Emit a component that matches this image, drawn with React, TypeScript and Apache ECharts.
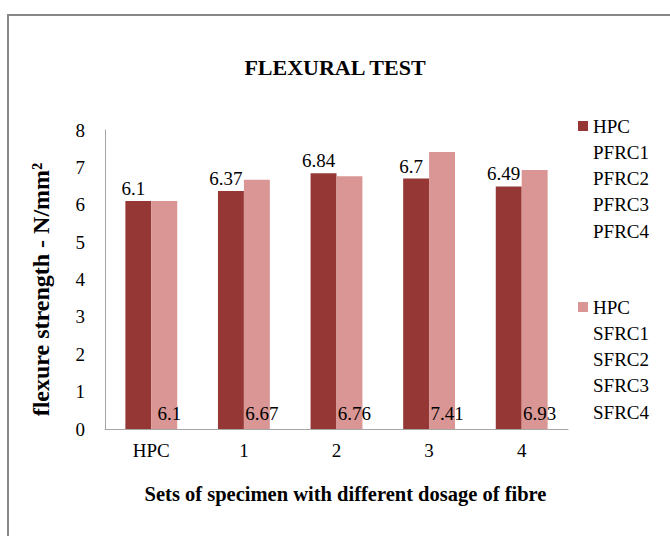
import React, { useEffect, useRef } from "react";
import * as echarts from "echarts";

const categories = ["HPC", "1", "2", "3", "4"];
const pfrcName = "HPC\nPFRC1\nPFRC2\nPFRC3\nPFRC4";
const sfrcName = "HPC\nSFRC1\nSFRC2\nSFRC3\nSFRC4";
const pfrcValues = [6.1, 6.37, 6.84, 6.7, 6.49];
const sfrcValues = [6.1, 6.67, 6.76, 7.41, 6.93];
const yTicks = { min: 0, max: 8, interval: 1 };

const FONT = "'Liberation Serif', 'DejaVu Serif', serif";
const LINE_H = 26.25;
const ITEM_H = LINE_H * 5;
// square marker next to the first line, with invisible anchor points spanning the whole item height
const legendIcon = `path://M0,0L0.01,0M0,8L10,8L10,18L0,18ZM10,${ITEM_H}L9.99,${ITEM_H}`;

export default function App() {
  const ref = useRef<HTMLDivElement>(null);
  useEffect(() => {
    if (!ref.current) return;
    const chart = echarts.init(ref.current, undefined, { renderer: "svg" });
    const legendText = {
      fontFamily: FONT,
      fontSize: 19,
      color: "#000",
      lineHeight: LINE_H,
    };
    const legendBase = {
      left: 578,
      padding: 0,
      icon: legendIcon,
      itemWidth: 10,
      itemHeight: ITEM_H,
      textStyle: legendText,
      selectedMode: false,
    };
    chart.setOption({
      animation: false,
      backgroundColor: "#fff",
      textStyle: { fontFamily: FONT },
      graphic: [
        {
          type: "rect",
          shape: { x: 8, y: 15, width: 700, height: 600 },
          style: { fill: "none", stroke: "#878787", lineWidth: 2 },
          silent: true,
        },
      ],
      title: {
        text: "FLEXURAL TEST",
        left: "center",
        top: 51,
        textStyle: { fontFamily: FONT, fontSize: 22, fontWeight: "bold", color: "#000" },
      },
      legend: [
        { ...legendBase, data: [pfrcName], top: 113 },
        { ...legendBase, data: [sfrcName], top: 294 },
      ],
      grid: { left: 105, right: 102, top: 130, bottom: 107, containLabel: false },
      xAxis: {
        type: "category",
        data: categories,
        name: "Sets of specimen with different dosage of fibre",
        nameLocation: "middle",
        nameGap: 54,
        nameTextStyle: {
          fontFamily: FONT,
          fontSize: 20.5,
          fontWeight: "bold",
          color: "#000",
          padding: [0, 0, 0, 18],
        },
        axisLine: { lineStyle: { color: "#a6a6a6", width: 1 } },
        axisTick: { show: false },
        axisLabel: { fontFamily: FONT, fontSize: 19, color: "#000", margin: 12 },
      },
      yAxis: {
        type: "value",
        min: yTicks.min,
        max: yTicks.max,
        interval: yTicks.interval,
        name: "flexure strength - N/mm²",
        nameLocation: "middle",
        nameGap: 52,
        nameTextStyle: {
          fontFamily: FONT,
          fontSize: 24,
          fontWeight: "bold",
          color: "#000",
          padding: [0, 20, 0, 0],
        },
        axisLine: { show: true, lineStyle: { color: "#a6a6a6", width: 1 } },
        axisTick: { show: false },
        splitLine: { show: false },
        axisLabel: { fontFamily: FONT, fontSize: 19, color: "#000", margin: 20 },
      },
      series: [
        {
          name: pfrcName,
          type: "bar",
          data: pfrcValues,
          barGap: "0%",
          barCategoryGap: "44%",
          itemStyle: { color: "#953735" },
          label: {
            show: true,
            position: "top",
            distance: 3,
            offset: [-5, 0],
            fontFamily: FONT,
            fontSize: 19,
            color: "#000",
          },
        },
        {
          name: sfrcName,
          type: "bar",
          data: sfrcValues,
          barGap: "0%",
          barCategoryGap: "44%",
          itemStyle: { color: "#D99694" },
          label: {
            show: true,
            position: "insideBottom",
            distance: 6,
            offset: [5, 0],
            fontFamily: FONT,
            fontSize: 19,
            color: "#000",
          },
        },
      ],
    });
    return () => chart.dispose();
  }, []);
  return (
    <div
      ref={ref}
      style={{ position: "fixed", left: 0, top: 0, width: 670, height: 536 }}
    />
  );
}
